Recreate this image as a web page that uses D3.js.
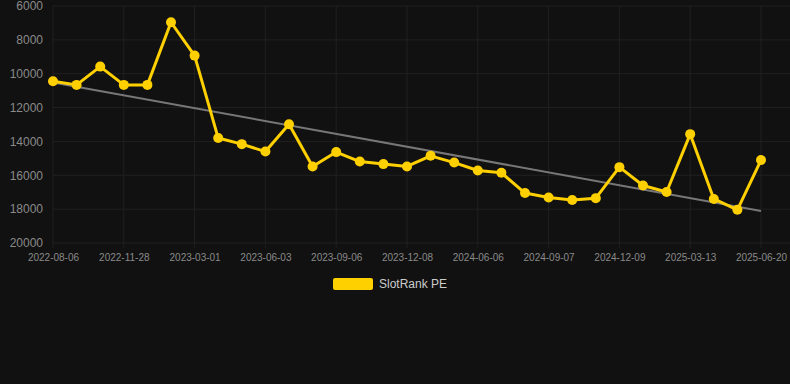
<!DOCTYPE html>
<html>
<head>
<meta charset="utf-8">
<script src="https://cdn.jsdelivr.net/npm/d3@7"></script>
<style>
  html, body { margin: 0; padding: 0; background: #111111; }
  svg { display: block; font-family: "Liberation Sans", Arial, sans-serif; }
</style>
</head>
<body>
<div id="chart"></div>
<script>
// data
const dates = [
    "2022-08-06", "2022-09-12", "2022-10-20", "2022-11-28", "2022-12-30", "2023-01-29",
    "2023-03-01", "2023-04-01", "2023-05-02", "2023-06-03", "2023-07-05", "2023-08-05",
    "2023-09-06", "2023-10-07", "2023-11-07", "2023-12-08", "2024-02-07", "2024-04-07",
    "2024-06-06", "2024-07-07", "2024-08-07", "2024-09-07", "2024-10-08", "2024-11-08",
    "2024-12-09", "2025-01-09", "2025-02-10", "2025-03-13", "2025-04-16", "2025-05-18",
    "2025-06-20"
];
const rankValues = [
    10450, 10660, 9580, 10660, 10660, 6960,
    8930, 13800, 14160, 14600, 12980, 15480,
    14630, 15190, 15340, 15480, 14850, 15250,
    15720, 15850, 17050, 17310, 17460, 17350,
    15520, 16600, 16990, 13570, 17400, 18040,
    15100
];
const yTicks = [6000, 8000, 10000, 12000, 14000, 16000, 18000, 20000];
const seriesName = "SlotRank PE";

const W = 790, H = 384;
const margin = { top: 6, right: 29, bottom: 141, left: 53 };
const innerW = W - margin.left - margin.right;
const innerH = H - margin.top - margin.bottom;

const svg = d3.select("#chart").append("svg")
    .attr("width", W)
    .attr("height", H);

const g = svg.append("g")
    .attr("transform", "translate(" + margin.left + "," + margin.top + ")");

const x = d3.scalePoint()
    .domain(dates)
    .range([0, innerW]);

// rank axis is inverted: smaller number at the top
const y = d3.scaleLinear()
    .domain([6000, 20000])
    .range([0, innerH]);

const gridColor = "#202020";
const labelColor = "#8a8a8a";

// horizontal grid
g.append("g").selectAll("line")
    .data(yTicks)
    .join("line")
    .attr("x1", 0)
    .attr("x2", W - margin.left)
    .attr("y1", d => y(d))
    .attr("y2", d => y(d))
    .attr("stroke", gridColor)
    .attr("stroke-width", 1);

// vertical grid on every third date (the labelled ones)
const shownDates = dates.filter((d, i) => i % 3 === 0);
g.append("g").selectAll("line")
    .data(shownDates)
    .join("line")
    .attr("x1", d => x(d))
    .attr("x2", d => x(d))
    .attr("y1", 0)
    .attr("y2", innerH + 5)
    .attr("stroke", gridColor)
    .attr("stroke-width", 1);

// y labels
const yAxis = d3.axisLeft(y)
    .tickValues(yTicks)
    .tickFormat(d3.format("d"))
    .tickSize(0)
    .tickPadding(10);
g.append("g")
    .call(yAxis)
    .call(a => a.select(".domain").remove())
    .selectAll("text")
    .attr("fill", labelColor)
    .style("font-size", "12px");

// x labels
const xAxis = d3.axisBottom(x).tickValues(shownDates).tickSize(0).tickPadding(11);
g.append("g")
    .attr("transform", "translate(0," + innerH + ")")
    .call(xAxis)
    .call(a => a.select(".domain").remove())
    .selectAll("text")
    .attr("fill", labelColor)
    .style("font-size", "10px");

// linear trend (least squares on index)
const n = rankValues.length;
const xm = d3.mean(d3.range(n));
const ym = d3.mean(rankValues);
const slope = d3.sum(rankValues, (v, i) => (i - xm) * (v - ym)) /
    d3.sum(d3.range(n), i => (i - xm) * (i - xm));
const icpt = ym - slope * xm;
const trend = [0, n - 1].map(i => ({ date: dates[i], value: icpt + slope * i }));

g.append("path")
    .datum(trend)
    .attr("fill", "none")
    .attr("stroke", "#777777")
    .attr("stroke-width", 2)
    .attr("d", d3.line().x(d => x(d.date)).y(d => y(d.value)));

// main series
const series = dates.map((d, i) => ({ date: d, value: rankValues[i] }));
const gold = "#ffd000";

g.append("path")
    .datum(series)
    .attr("fill", "none")
    .attr("stroke", gold)
    .attr("stroke-width", 3)
    .attr("stroke-linejoin", "round")
    .attr("d", d3.line().x(d => x(d.date)).y(d => y(d.value)));

g.append("g").selectAll("circle")
    .data(series)
    .join("circle")
    .attr("cx", d => x(d.date))
    .attr("cy", d => y(d.value))
    .attr("r", 5)
    .attr("fill", gold);

// legend
const legend = svg.append("g").attr("transform", "translate(333,278)");
legend.append("rect")
    .attr("width", 40)
    .attr("height", 12)
    .attr("rx", 2)
    .attr("fill", gold);
legend.append("text")
    .attr("x", 46)
    .attr("y", 6)
    .attr("dy", "0.35em")
    .attr("fill", "#cccccc")
    .style("font-size", "12px")
    .text(seriesName);
</script>
</body>
</html>
